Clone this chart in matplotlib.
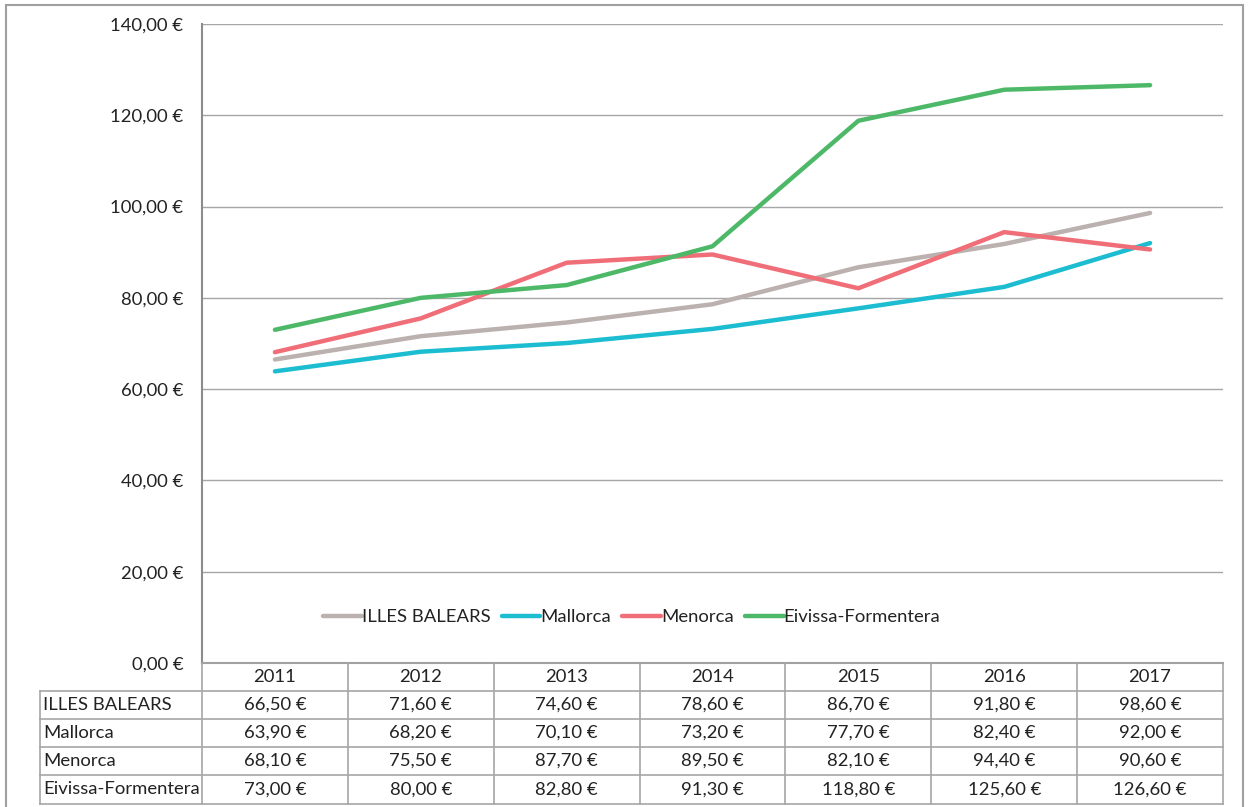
import matplotlib
matplotlib.use('Agg')
import matplotlib.pyplot as plt
from matplotlib.lines import Line2D
from matplotlib.patches import Rectangle

# ========== DATA ==========
years = ['2011', '2012', '2013', '2014', '2015', '2016', '2017']
series_names = ['ILLES BALEARS', 'Mallorca', 'Menorca', 'Eivissa-Formentera']
illes_balears = [66.5, 71.6, 74.6, 78.6, 86.7, 91.8, 98.6]
mallorca = [63.9, 68.2, 70.1, 73.2, 77.7, 82.4, 92.0]
menorca = [68.1, 75.5, 87.7, 89.5, 82.1, 94.4, 90.6]
eivissa = [73.0, 80.0, 82.8, 91.3, 118.8, 125.6, 126.6]
y_ticks = [0, 20, 40, 60, 80, 100, 120, 140]

colors = ['#BBB1AE', '#1CBDD1', '#F06E78', '#4DB968']
all_series = [illes_balears, mallorca, menorca, eivissa]

W, H = 1248, 807
FS = 13.3
GRID = '#A6A6A6'
TXT = '#222222'
plt.rcParams['font.family'] = ['Lato', 'DejaVu Sans']


def fx(px):
    return px / W


def fy(py):
    return 1 - py / H


def euro(v):
    return f'{v:,.2f}'.replace(',', 'X').replace('.', ',').replace('X', '.') + ' €'


fig = plt.figure(figsize=(W / 100, H / 100), dpi=100)

# outer frame
fig.add_artist(Rectangle((fx(6), -0.05), fx(1243) - fx(6), fy(5) + 0.05,
                         transform=fig.transFigure, fill=False,
                         edgecolor='#A0A0A0', linewidth=1.5))

# ========== PLOT AREA ==========
left, right, top, bottom = 202, 1223, 24, 663
ax = fig.add_axes([fx(left), fy(bottom), fx(right) - fx(left), fy(top) - fy(bottom)])

x = list(range(len(years)))
for name, vals, c in zip(series_names, all_series, colors):
    ax.plot(x, vals, color=c, linewidth=3.2, label=name, solid_capstyle='round')

ax.set_xlim(-0.5, len(years) - 0.5)
ax.set_ylim(0, 140)
ax.set_yticks(y_ticks)
ax.set_yticklabels([euro(v) for v in y_ticks], fontsize=FS, color=TXT)
ax.tick_params(axis='y', length=0, pad=13.5)
ax.set_xticks([])
ax.grid(axis='y', color=GRID, linewidth=1)
ax.set_axisbelow(True)
for s in ['top', 'right']:
    ax.spines[s].set_visible(False)
for s in ['left', 'bottom']:
    ax.spines[s].set_color('#8C8C8C')
    ax.spines[s].set_linewidth(1.5)

leg = ax.legend(loc='center', bbox_to_anchor=(0.421, 0.072), ncol=4, frameon=False,
                fontsize=FS, handlelength=2.1, handletextpad=0.0, columnspacing=0.6)
for t in leg.get_texts():
    t.set_color(TXT)

# ========== DATA TABLE ==========
col_w = (right - left) / len(years)
row_tops = [663, 691, 719, 747, 775, 804]
label_left = 40
line_kw = dict(color=GRID, linewidth=1.2, transform=fig.transFigure)

# horizontal lines
fig.add_artist(Line2D([fx(left), fx(right)], [fy(row_tops[0])] * 2, **line_kw))
for r in row_tops[1:]:
    fig.add_artist(Line2D([fx(label_left), fx(right)], [fy(r)] * 2, **line_kw))
# vertical lines
for k in range(len(years) + 1):
    xp = left + k * col_w
    fig.add_artist(Line2D([fx(xp)] * 2, [fy(row_tops[0]), fy(row_tops[-1])], **line_kw))
fig.add_artist(Line2D([fx(label_left)] * 2, [fy(row_tops[1]), fy(row_tops[-1])], **line_kw))

# header
for k, yr in enumerate(years):
    fig.text(fx(left + (k + 0.5) * col_w), fy((row_tops[0] + row_tops[1]) / 2), yr,
             ha='center', va='center', fontsize=FS, color=TXT)

# rows
for i, (name, vals) in enumerate(zip(series_names, all_series)):
    yc = fy((row_tops[i + 1] + row_tops[i + 2]) / 2)
    fig.text(fx(label_left + 3), yc, name, ha='left', va='center', fontsize=FS, color=TXT)
    for k, v in enumerate(vals):
        fig.text(fx(left + (k + 0.5) * col_w), yc, euro(v),
                 ha='center', va='center', fontsize=FS, color=TXT)

fig.savefig('out.png', dpi=100)
